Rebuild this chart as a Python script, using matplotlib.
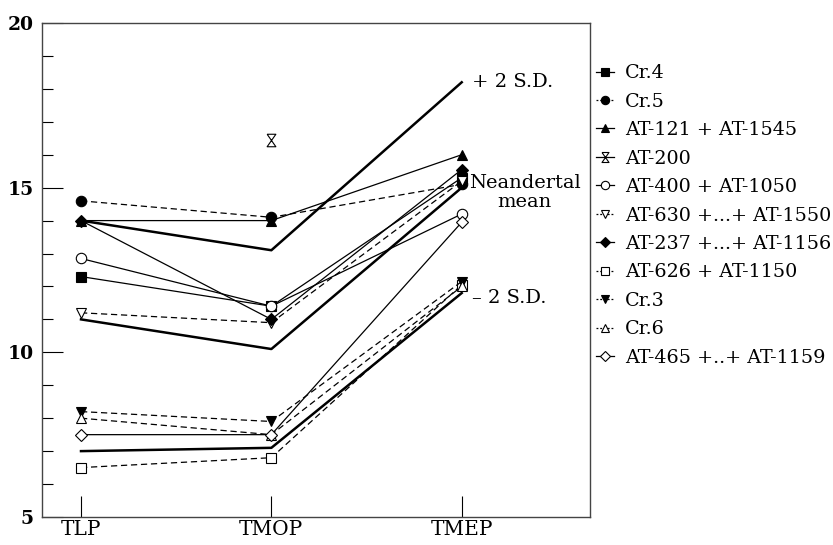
import matplotlib.pyplot as plt
from matplotlib.lines import Line2D
from matplotlib.path import Path

plt.rcParams['font.family'] = ['DejaVu Serif']

sites = ['TLP', 'TMOP', 'TMEP']

# Neandertal reference lines (mean and +/- 2 S.D.)
plus_2sd = [14.0, 13.1, 18.2]
nean_mean = [11.0, 10.1, 15.0]
minus_2sd = [7.0, 7.1, 11.8]

# specimens
names = ['Cr.4', 'Cr.5', 'AT-121 + AT-1545', 'AT-200', 'AT-400 + AT-1050',
         'AT-630 +...+ AT-1550', 'AT-237 +...+ AT-1156', 'AT-626 + AT-1150',
         'Cr.3', 'Cr.6', 'AT-465 +..+ AT-1159']
cr4 = [12.3, 11.4, 15.3]
cr5 = [14.6, 14.1, 15.1]
at121 = [14.0, 14.0, 16.0]
at200 = [None, 16.45, None]
at400 = [12.85, 11.4, 14.2]
at630 = [11.2, 10.9, 15.2]
at237 = [14.0, 11.0, 15.55]
at626 = [6.5, 6.8, 12.05]
cr3 = [8.2, 7.9, 12.15]
cr6 = [8.0, 7.5, 12.0]
at465 = [7.5, 7.5, 13.95]

# hourglass marker for AT-200
hourglass = Path([(-0.7, 1), (0.7, 1), (-0.7, -1), (0.7, -1), (-0.7, 1)])

series = [cr4, cr5, at121, at200, at400, at630, at237, at626, cr3, cr6, at465]
markers = ['s', 'o', '^', hourglass, 'o', 'v', 'D', 's', 'v', '^', 'D']
filled = [True, True, True, False, False, False, True, False, True, False, False]
styles = ['-', '--', '-', 'none', '-', '--', '-', '--', '--', '--', '-']
msizes = [7, 7.5, 7, 9, 7.5, 7.5, 6, 7, 7.5, 7.5, 6.5]

fig = plt.figure(figsize=(8.33, 5.45), dpi=100)
ax = fig.add_axes([0.0504, 0.0514, 0.6579, 0.9064])

x = list(range(len(sites)))
for ref in (plus_2sd, nean_mean, minus_2sd):
    ax.plot(x, ref, color='black', lw=1.8, zorder=2)

handles = []
for name, vals, m, f, ls, ms in zip(names, series, markers, filled, styles, msizes):
    pts = [(i, v) for i, v in zip(x, vals) if v is not None]
    xs = [p[0] for p in pts]
    ys = [p[1] for p in pts]
    fc = 'black' if f else 'white'
    kw = dict(marker=m, markersize=ms, markerfacecolor=fc,
              markeredgecolor='black', markeredgewidth=0.8)
    ax.plot(xs, ys, color='black', lw=0.9, linestyle=ls if ls != 'none' else 'None',
            dashes=(5, 3) if ls == '--' else (None, None), zorder=3, **kw)
    h = Line2D([], [], color='black', lw=0.9,
               linestyle=ls if ls != 'none' else 'None',
               dashes=(1.5, 1.5) if ls == '--' else (None, None), **kw)
    handles.append(h)

ax.set_xlim(-0.205, 2.674)
ax.set_ylim(5, 20)
ax.set_xticks(x)
ax.set_xticklabels(sites, fontsize=14.5)
ax.set_yticks([5, 10, 15, 20])
ax.set_yticks(range(5, 21), minor=True)
ax.set_yticklabels(['5', '10', '15', '20'], fontsize=13.5, fontweight='bold')
ax.tick_params(axis='y', which='major', direction='in', length=15, width=0.8, pad=6)
ax.tick_params(axis='y', which='minor', direction='in', length=8, width=0.8)
ax.tick_params(axis='x', which='major', direction='in', length=15, width=0.8, pad=2)
for s in ax.spines.values():
    s.set_linewidth(1.0)
    s.set_color('#444444')

ax.text(2.055, 18.2, '+ 2 S.D.', fontsize=14, va='center', ha='left')
ax.text(2.33, 14.85, 'Neandertal\nmean', fontsize=14, va='center', ha='center',
        linespacing=1.05)
ax.text(2.055, 11.65, '\u2013 2 S.D.', fontsize=14, va='center', ha='left')

fig.legend(handles=handles, labels=names, loc='upper left',
           bbox_to_anchor=(0.716, 0.882), frameon=False, fontsize=13.8,
           handlelength=0.9, handletextpad=0.6, labelspacing=0.545,
           markerscale=0.8, borderaxespad=0, borderpad=0)

fig.savefig('out.png', dpi=100)
